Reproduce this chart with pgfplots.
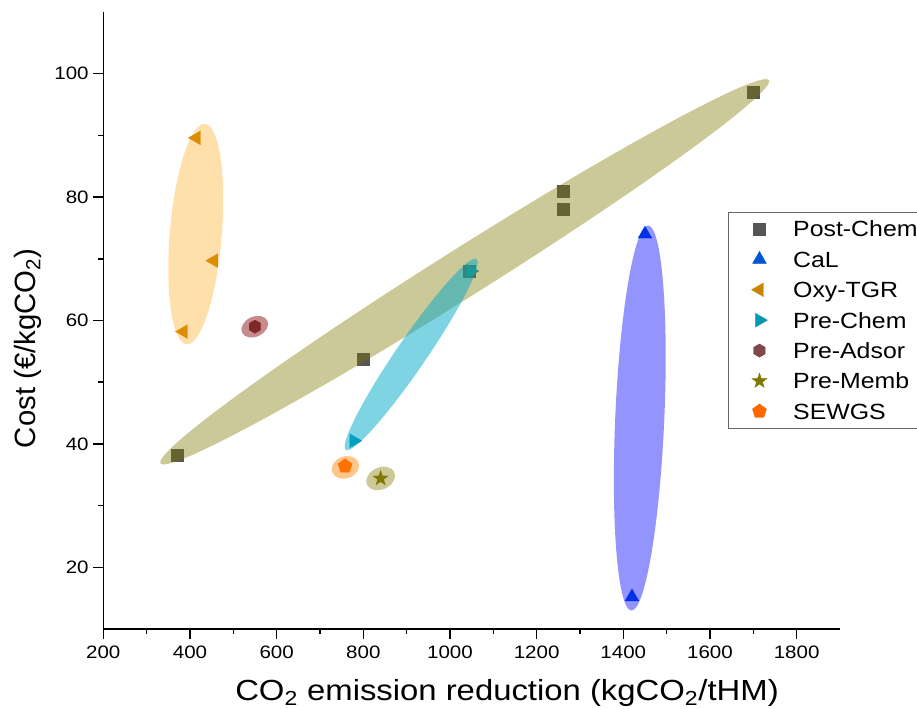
\documentclass[border=0pt]{standalone}
\usepackage{pgfplots}
\pgfplotsset{compat=1.18}
\usepackage{fontspec}
\setmainfont{Liberation Sans}
\newfontfamily\tickfont{Liberation Sans}[FakeStretch=1.14]
\newfontfamily\legfont{Liberation Sans}[FakeStretch=1.13]
\newfontfamily\xlabfont{Liberation Sans}[FakeStretch=1.13]

\definecolor{postc}{RGB}{85,85,85}
\definecolor{calc}{RGB}{0,85,212}
\definecolor{oxyc}{RGB}{204,132,0}
\definecolor{prec}{RGB}{0,150,180}
\definecolor{adsc}{RGB}{128,72,72}
\definecolor{membc}{RGB}{128,120,0}
\definecolor{sewc}{RGB}{255,102,0}

\definecolor{postE}{RGB}{128,120,0}
\definecolor{calE}{RGB}{0,0,255}
\definecolor{oxyE}{RGB}{255,160,0}
\definecolor{preE}{RGB}{0,170,200}
\definecolor{adsE}{RGB}{128,0,0}
\definecolor{sewE}{RGB}{255,128,0}

\pgfdeclareplotmark{hexagon*}{%
  \pgfpathmoveto{\pgfpointpolar{90}{\pgfplotmarksize}}%
  \pgfpathlineto{\pgfpointpolar{150}{\pgfplotmarksize}}%
  \pgfpathlineto{\pgfpointpolar{210}{\pgfplotmarksize}}%
  \pgfpathlineto{\pgfpointpolar{270}{\pgfplotmarksize}}%
  \pgfpathlineto{\pgfpointpolar{330}{\pgfplotmarksize}}%
  \pgfpathlineto{\pgfpointpolar{30}{\pgfplotmarksize}}%
  \pgfpathclose
  \pgfusepathqfillstroke}
\pgfdeclareplotmark{fstar}{%
  \pgfpathmoveto{\pgfpointpolar{90}{\pgfplotmarksize}}%
  \pgfpathlineto{\pgfpointpolar{126}{0.40\pgfplotmarksize}}%
  \pgfpathlineto{\pgfpointpolar{162}{\pgfplotmarksize}}%
  \pgfpathlineto{\pgfpointpolar{198}{0.40\pgfplotmarksize}}%
  \pgfpathlineto{\pgfpointpolar{234}{\pgfplotmarksize}}%
  \pgfpathlineto{\pgfpointpolar{270}{0.40\pgfplotmarksize}}%
  \pgfpathlineto{\pgfpointpolar{306}{\pgfplotmarksize}}%
  \pgfpathlineto{\pgfpointpolar{342}{0.40\pgfplotmarksize}}%
  \pgfpathlineto{\pgfpointpolar{18}{\pgfplotmarksize}}%
  \pgfpathlineto{\pgfpointpolar{54}{0.40\pgfplotmarksize}}%
  \pgfpathclose
  \pgfusepathqfillstroke}

\begin{document}
\begin{tikzpicture}
\useasboundingbox (-77.475pt,-60pt) rectangle (610.275pt,471.75pt);
\begin{axis}[
  at={(0,0)}, anchor=south west,
  scale only axis,
  width=552.5pt, height=462.75pt,
  xmin=200, xmax=1900, ymin=10, ymax=110,
  axis lines=left,
  axis line style={-, line width=1.1pt},
  xtick={200,400,...,1800},
  ytick={20,40,...,100},
  minor x tick num=1,
  minor y tick num=1,
  tick align=outside,
  major tick length=7.5pt,
  minor tick length=3.75pt,
  every tick/.style={black, line width=1.1pt},
  /pgf/number format/assume math mode=true,
  /pgf/number format/1000 sep={},
  tick label style={font=\tickfont\fontsize{13.5}{15}\selectfont},
  xticklabel style={yshift=-2pt},
  xlabel={CO\textsubscript{2} emission reduction (kgCO\textsubscript{2}/tHM)},
  ylabel={Cost (€/kgCO\textsubscript{2})},
  xlabel style={font=\xlabfont\fontsize{21.8}{23}\selectfont, at={(axis description cs:0.548,0)}, anchor=base, yshift=-54pt},
  ylabel style={font=\fontsize{22}{24}\selectfont, at={(axis description cs:-0.1023,0.455)}, anchor=center},
  legend style={at={(0.848,0.676)}, anchor=north west, draw=black!60, line width=0.6pt,
    font=\legfont\fontsize{16.5}{18}\selectfont, inner xsep=9pt, inner ysep=1.1pt,
    row sep=0pt,
    nodes={inner ysep=0pt, text height=17.3pt, text depth=5.5pt},
    /tikz/every odd column/.append style={column sep=9pt}},
  legend cell align=left,
  legend image code/.code={\path (0pt,0pt) (28pt,0pt); \draw[#1] plot coordinates {(14pt,0pt)};},
  clip=false,
]
\addplot[only marks, mark=square*, mark size=4.5pt, mark options={fill=postc, draw=postc, line width=0.2pt}]
  coordinates {(370,38.2) (800,53.8) (1045,68) (1260,81) (1260,78) (1700,97)};
\addlegendentry{Post-Chem}
\addplot[only marks, mark=triangle*, mark size=6pt, mark options={fill=calc, draw=calc, line width=0.2pt}]
  coordinates {(1420,15.2) (1450,74)};
\addlegendentry{CaL}
\addplot[only marks, mark=triangle*, mark size=6pt, mark options={fill=oxyc, draw=oxyc, line width=0.2pt, rotate=90}]
  coordinates {(415,89.6) (455,69.7) (385,58.2)};
\addlegendentry{Oxy-TGR}
\addplot[only marks, mark=triangle*, mark size=6pt, mark options={fill=prec, draw=prec, line width=0.2pt, rotate=-90}]
  coordinates {(778,40.5) (1048,68)};
\addlegendentry{Pre-Chem}
\addplot[only marks, mark=hexagon*, mark size=5pt, mark options={fill=adsc, draw=adsc, line width=0.2pt}]
  coordinates {(550,59)};
\addlegendentry{Pre-Adsor}
\addplot[only marks, mark=fstar, mark size=6pt, mark options={fill=membc, draw=membc, line width=0.2pt}]
  coordinates {(840,34.4)};
\addlegendentry{Pre-Memb}
\addplot[only marks, mark=pentagon*, mark size=5.6pt, mark options={fill=sewc, draw=sewc, line width=0.2pt}]
  coordinates {(758,36.4)};
\addlegendentry{SEWGS}

% centres of the confidence ellipses (data coordinates)
\coordinate (ePost) at (axis cs:1034,67.9);
\coordinate (eCaL)  at (axis cs:1438,44.2);
\coordinate (eOxy)  at (axis cs:413.4,74.0);
\coordinate (eAds)  at (axis cs:549.5,59.0);
\coordinate (ePre)  at (axis cs:910.5,54.5);
\coordinate (eSew)  at (axis cs:758.7,36.2);
\coordinate (eMemb) at (axis cs:840,34.4);
\end{axis}
% ellipses drawn over the markers, as in the reference
\fill[postE, fill opacity=0.4, rotate around={32.2:(ePost)}] (ePost) ellipse [x radius=269.6pt, y radius=18pt];
\fill[calE, fill opacity=0.42, rotate around={87.5:(eCaL)}] (eCaL) ellipse [x radius=144.5pt, y radius=18.4pt];
\fill[oxyE, fill opacity=0.33, rotate around={85.25:(eOxy)}] (eOxy) ellipse [x radius=82.9pt, y radius=19.5pt];
\fill[adsE, fill opacity=0.45, rotate around={25:(eAds)}] (eAds) ellipse [x radius=10.5pt, y radius=7.5pt];
\fill[preE, fill opacity=0.5, rotate around={55.6:(ePre)}] (ePre) ellipse [x radius=86.7pt, y radius=11.25pt];
\fill[sewE, fill opacity=0.45, rotate around={20:(eSew)}] (eSew) ellipse [x radius=10.5pt, y radius=8.25pt];
\fill[postE, fill opacity=0.4, rotate around={25:(eMemb)}] (eMemb) ellipse [x radius=11.25pt, y radius=8.25pt];
\end{tikzpicture}
\end{document}
